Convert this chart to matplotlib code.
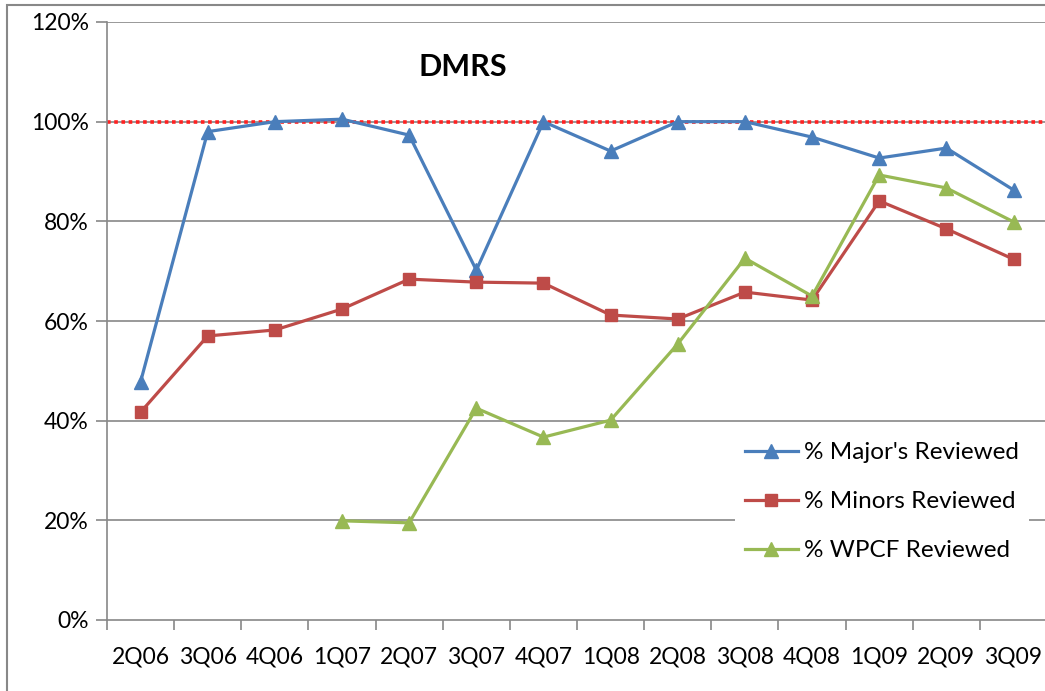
import matplotlib.pyplot as plt
from matplotlib.patches import Rectangle

quarters = ['2Q06', '3Q06', '4Q06', '1Q07', '2Q07', '3Q07', '4Q07',
            '1Q08', '2Q08', '3Q08', '4Q08', '1Q09', '2Q09', '3Q09']
majors = [47.8, 98.0, 100.0, 100.5, 97.3, 70.2, 100.0, 94.1, 100.0, 100.0, 96.9, 92.7, 94.7, 86.3]
minors = [41.7, 57.0, 58.2, 62.4, 68.4, 67.8, 67.6, 61.2, 60.4, 65.8, 64.2, 84.1, 78.5, 72.4]
wpcf = [None, None, None, 19.9, 19.5, 42.5, 36.7, 40.1, 55.4, 72.6, 65.0, 89.3, 86.7, 79.9]
target = 100

plt.rcParams['font.family'] = ['Lato', 'DejaVu Sans']

fig = plt.figure(figsize=(10.45, 6.91), dpi=100)
ax = fig.add_axes([107 / 1045, 1 - 620 / 691, 1 - 107 / 1045 + 0.002, (620 - 22) / 691])

# outer chart border
fig.patches.append(Rectangle((7 / 1045, -0.05), 1.1, 1 - 5 / 691 + 0.05, transform=fig.transFigure,
                             fill=False, edgecolor='#888888', linewidth=1.5))

x = list(range(len(quarters)))
wx = [i for i, v in zip(x, wpcf) if v is not None]
wy = [v for v in wpcf if v is not None]

for yv in [20, 40, 60, 80, 120]:
    ax.axhline(yv, color='#888888', linewidth=1.2, zorder=0)
ax.axhline(target, color='#888888', linewidth=1.2, zorder=0)
ax.axhline(target, color='#ff2020', linewidth=2.6, linestyle=(0, (1, 1)), zorder=1)

ax.plot(x, majors, color='#4a7ebb', linewidth=2.3, marker='^', markersize=10, label="% Major's Reviewed", zorder=3)
ax.plot(x, minors, color='#be4b48', linewidth=2.3, marker='s', markersize=9, label='% Minors Reviewed', zorder=3)
ax.plot(wx, wy, color='#98b954', linewidth=2.3, marker='^', markersize=10, label='% WPCF Reviewed', zorder=4)

ax.set_xlim(-0.5, len(quarters) - 0.5)
ax.set_ylim(0, 120)
ax.set_yticks(range(0, 121, 20))
ax.set_yticklabels([f'{v}%' for v in range(0, 121, 20)])
ax.set_xticks(x)
ax.set_xticklabels(quarters)
ax.set_xticks([i - 0.5 for i in range(len(quarters) + 1)], minor=True)
ax.tick_params(axis='x', which='major', length=0, pad=19, labelsize=16.5)
ax.tick_params(axis='x', which='minor', length=7, color='#888888', width=1.2)
ax.tick_params(axis='y', length=8, color='#888888', width=1.2, labelsize=16.5, pad=5)

for s in ['top', 'right']:
    ax.spines[s].set_visible(False)
for s in ['left', 'bottom']:
    ax.spines[s].set_color('#888888')
    ax.spines[s].set_linewidth(1.2)

ax.text(0.378, 0.925, 'DMRS', transform=ax.transAxes, fontsize=22, fontweight='bold', ha='center', va='center')

leg = ax.legend(loc='lower left', bbox_to_anchor=(0.655, 0.062), fontsize=17.5, frameon=True,
                fancybox=False, edgecolor='none', framealpha=1, handlelength=2.2,
                labelspacing=1.15, handletextpad=0.25)

fig.savefig('out.png', dpi=100)
